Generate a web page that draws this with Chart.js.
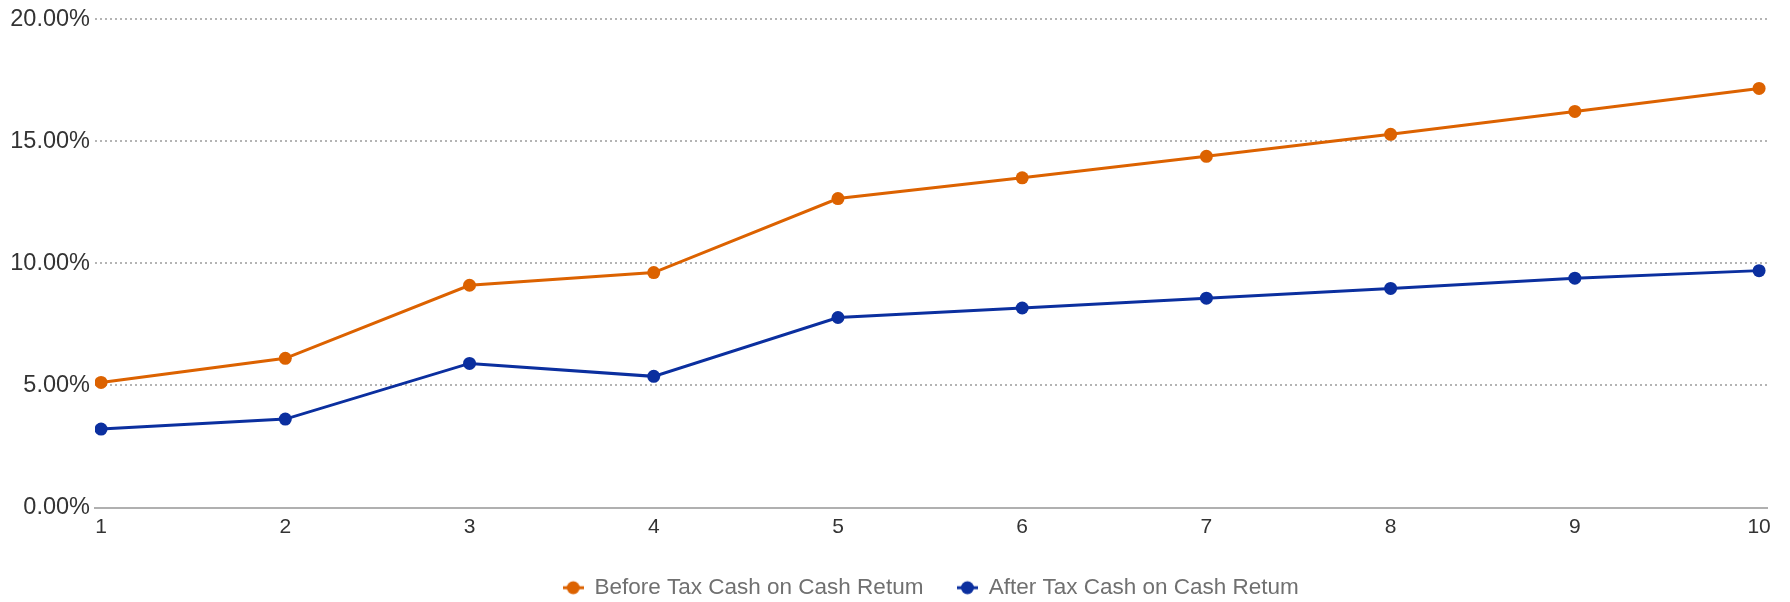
<!DOCTYPE html>
<html>
<head>
<meta charset="utf-8">
<title>Cash on Cash Return</title>
<script src="https://cdn.jsdelivr.net/npm/chart.js@4"></script>
<style>
  html, body { margin: 0; padding: 0; background: #fff; }
  #wrap { width: 1790px; height: 602px; position: relative; }
</style>
</head>
<body>
<div id="wrap"><canvas id="coc-chart"></canvas></div>
<script>
// Holding years and yearly returns (%)
const years        = [1, 2, 3, 4, 5, 6, 7, 8, 9, 10];
const beforeTax    = [5.12, 6.11, 9.10, 9.62, 12.65, 13.50, 14.38, 15.28, 16.22, 17.16];
const afterTax     = [3.21, 3.62, 5.90, 5.37, 7.78, 8.17, 8.57, 8.97, 9.39, 9.70];
const yTicks       = [0, 5, 10, 15, 20];
const seriesLabels = ['Before Tax Cash on Cash Retum', 'After Tax Cash on Cash Retum'];

const ORANGE = '#dc6200';
const BLUE   = '#0b2f9f';

Chart.defaults.font.family = '"Liberation Sans", Arial, sans-serif';

// Small line-with-dot swatch for the legend
function legendSwatch(color) {
  const c = document.createElement('canvas');
  c.width = 21;
  c.height = 16;
  const ctx = c.getContext('2d');
  ctx.strokeStyle = color;
  ctx.lineWidth = 3;
  ctx.beginPath();
  ctx.moveTo(0, 8);
  ctx.lineTo(21, 8);
  ctx.stroke();
  ctx.fillStyle = color;
  ctx.beginPath();
  ctx.arc(10.5, 8, 6.5, 0, Math.PI * 2);
  ctx.fill();
  return c;
}

function toPoints(values) {
  return values.map((v, i) => ({ x: years[i], y: v }));
}

function lineDataset(label, values, color) {
  return {
    label,
    data: toPoints(values),
    borderColor: color,
    backgroundColor: color,
    borderWidth: 3,
    pointRadius: 6.5,
    pointBorderWidth: 0,
    pointStyle: 'circle',
    tension: 0
  };
}

new Chart(document.getElementById('coc-chart'), {
  type: 'line',
  data: {
    datasets: [
      lineDataset(seriesLabels[0], beforeTax, ORANGE),
      lineDataset(seriesLabels[1], afterTax, BLUE)
    ]
  },
  options: {
    responsive: true,
    maintainAspectRatio: false,
    animation: false,
    layout: { padding: { top: 10, right: 23, bottom: -7, left: 0 } },
    scales: {
      x: {
        type: 'linear',
        min: 0.967,
        max: 10.043,
        afterBuildTicks: (scale) => { scale.ticks = years.map(v => ({ value: v })); },
        afterFit: (scale) => { scale.height = 35; },
        ticks: {
          font: { size: 21 },
          color: '#333',
          padding: 7,
          autoSkip: false,
          maxRotation: 0,
          callback: (v) => String(v)
        },
        grid: { display: false, drawTicks: false },
        border: { display: true, color: '#b0b0b0', width: 2 }
      },
      y: {
        min: 0,
        max: 20,
        afterBuildTicks: (scale) => { scale.ticks = yTicks.map(v => ({ value: v })); },
        afterFit: (scale) => { scale.width = 95; },
        ticks: {
          font: { size: 23.5 },
          color: '#333',
          padding: 5,
          callback: (v) => v.toFixed(2) + '%'
        },
        // dotted horizontal grid
        grid: { color: '#b4b4b4', lineWidth: 2, drawTicks: false },
        border: { display: false, dash: [2, 3] }
      }
    },
    plugins: {
      legend: {
        position: 'bottom',
        fullSize: false,
        labels: {
          usePointStyle: true,
          pointStyleWidth: 20,
          padding: 34,
          color: '#707070',
          font: { size: 22.5 },
          generateLabels: (chart) => chart.data.datasets.map((ds, i) => ({
            text: ds.label,
            pointStyle: legendSwatch(ds.borderColor),
            fillStyle: ds.borderColor,
            strokeStyle: ds.borderColor,
            fontColor: '#707070',
            lineWidth: 0,
            hidden: false,
            datasetIndex: i
          }))
        }
      },
      tooltip: { enabled: false }
    }
  }
});
</script>
</body>
</html>
